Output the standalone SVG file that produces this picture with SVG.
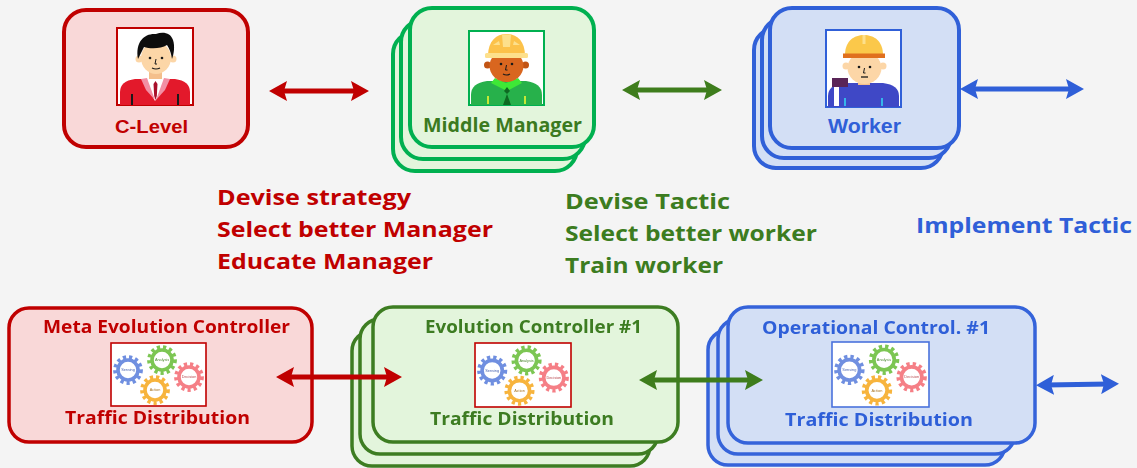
<svg xmlns="http://www.w3.org/2000/svg" xmlns:xlink="http://www.w3.org/1999/xlink" width="1137" height="468" viewBox="0 0 1137 468">
  <style>
    .geo { font-family: "Open Sans", "Noto Sans", sans-serif; font-weight: 700; }
    .ari { font-family: "Liberation Sans", Arial, sans-serif; font-weight: 700; }
    .red { fill: #c00000; }
    .grn { fill: #3c7c20; }
    .blu { fill: #2f5fd8; }
    .cRed { fill: #f9d8d8; stroke: #c00000; stroke-width: 4; }
    .cGrn { fill: #e3f5dc; stroke: #00b050; stroke-width: 4; }
    .cBlu { fill: #d3dff5; stroke: #3060d8; stroke-width: 4; }
    .bRed { fill: #f9d8d8; stroke: #c00000; stroke-width: 3.5; }
    .bGrn { fill: #e3f5dc; stroke: #3e7d22; stroke-width: 3.5; }
    .bBlu { fill: #d3dff5; stroke: #3464da; stroke-width: 3.5; }
    .skin { fill: #fcd6a7; }
    .ink { fill: #1a1a1a; }
    .teeth { fill: none; stroke-width: 4.6; stroke-dasharray: 3.1 2.9; }
    .ring { fill: #ffffff; stroke-width: 3.6; }
    .gearTxt { font-family: "Liberation Sans", Arial, sans-serif; font-size: 3.8px; text-anchor: middle; }
  </style>
  <defs>
    <marker id="hRed" viewBox="0 0 18 20" markerWidth="18" markerHeight="20" refX="8" refY="10" markerUnits="userSpaceOnUse" orient="auto-start-reverse">
      <path d="M0,0 L18,10 L0,20 L3,10 Z" fill="#c00000"/>
    </marker>
    <marker id="hGrn" viewBox="0 0 18 20" markerWidth="18" markerHeight="20" refX="8" refY="10" markerUnits="userSpaceOnUse" orient="auto-start-reverse">
      <path d="M0,0 L18,10 L0,20 L3,10 Z" fill="#3e7d1c"/>
    </marker>
    <marker id="hBlu" viewBox="0 0 18 20" markerWidth="18" markerHeight="20" refX="8" refY="10" markerUnits="userSpaceOnUse" orient="auto-start-reverse">
      <path d="M0,0 L18,10 L0,20 L3,10 Z" fill="#2f5fd8"/>
    </marker>
    <filter id="soft" x="-5%" y="-5%" width="110%" height="110%">
      <feGaussianBlur stdDeviation="0.5"/>
    </filter>
    <!-- four interlocking gears: sense / analyse / decide / act -->
    <symbol id="gears" viewBox="0 0 95 63" overflow="visible">
      <g stroke="#6f8fe0">
        <circle class="teeth" cx="17" cy="27" r="12.6"/>
        <circle class="ring" cx="17" cy="27" r="10"/>
      </g>
      <g stroke="#7cc653">
        <circle class="teeth" cx="51" cy="17" r="12.6"/>
        <circle class="ring" cx="51" cy="17" r="10"/>
      </g>
      <g stroke="#f57f86">
        <circle class="teeth" cx="78" cy="34" r="12.6"/>
        <circle class="ring" cx="78" cy="34" r="10"/>
      </g>
      <g stroke="#f7b43e">
        <circle class="teeth" cx="44" cy="47" r="12.6"/>
        <circle class="ring" cx="44" cy="47" r="10"/>
      </g>
      <text class="gearTxt" x="17" y="28.3" fill="#4a64b0">Sensing</text>
      <text class="gearTxt" x="51" y="18.3" fill="#4e8a32">Analysis</text>
      <text class="gearTxt" x="78" y="35.3" fill="#b84a50">Decision</text>
      <text class="gearTxt" x="44" y="48.3" fill="#a87420">Action</text>
    </symbol>
  </defs>

  <rect x="0" y="0" width="1137" height="468" fill="#f4f4f4"/>

  <!-- C-Level -->
  <g id="c-level">
    <rect class="cRed" x="64" y="10" width="184" height="137" rx="22"/>
    <g transform="translate(117,28)">
      <rect x="0" y="0" width="76" height="77" fill="#ffffff" stroke="#c00000" stroke-width="2"/>
      <path d="M3,77 V64 Q3,53 18,51 L58,51 Q73,53 73,64 V77 Z" fill="#e3192b"/>
      <rect x="32" y="40" width="13" height="12" fill="#f4bf8c"/>
      <path d="M28,51 L49,51 L43,66 L38,73 L34,66 Z" fill="#ffffff"/>
      <path d="M24,51 L30,50 L38,72 L29,62 Z" fill="#f28fa4"/>
      <path d="M53,51 L47,50 L39,72 L48,62 Z" fill="#f28fa4"/>
      <path d="M38.5,53 L40.5,56 L39.8,68 L38.5,72 L37.2,68 L36.5,56 Z" fill="#a80f2a"/>
      <rect x="14" y="66" width="2" height="11" class="ink"/>
      <rect x="60" y="66" width="2" height="11" class="ink"/>
      <circle cx="22" cy="31" r="3.5" class="skin"/>
      <circle cx="56" cy="31" r="3.5" class="skin"/>
      <ellipse cx="39" cy="30" rx="15" ry="16" class="skin"/>
      <path d="M21,31 C18,13 28,5 39,6 C46,3 54,5 56,12 C58,18 57,26 55,31 C54,24 52,20 50,17 C44,21 33,21 27,19 C25,23 23,27 21,31 Z" fill="#0d0d0d"/>
      <circle cx="33" cy="30" r="1.3" class="ink"/>
      <circle cx="45" cy="30" r="1.3" class="ink"/>
      <path d="M39,31 L38,36 L40,36" stroke="#1a1a1a" stroke-width="1" fill="none"/>
      <path d="M35,40 Q39,42 43,40" stroke="#1a1a1a" stroke-width="1.2" fill="none"/>
    </g>
    <text class="ari red" x="115" y="133" font-size="18" textLength="73" lengthAdjust="spacingAndGlyphs">C-Level</text>
  </g>

  <!-- Middle Manager (stack) -->
  <g id="middle-manager">
    <rect class="cGrn" x="393" y="32" width="184" height="139" rx="22"/>
    <rect class="cGrn" x="401" y="20" width="184" height="139" rx="22"/>
    <rect class="cGrn" x="410" y="8" width="184" height="139" rx="22"/>
    <g transform="translate(469,31)">
      <rect x="0" y="0" width="75" height="74" fill="#ffffff" stroke="#00b050" stroke-width="2"/>
      <path d="M2,74 V64 Q2,52 18,50 L57,50 Q73,52 73,64 V74 Z" fill="#27b14b"/>
      <path d="M26,47 L37,52 L49,47 L53,52 L38,60 L22,52 Z" fill="#3ee836"/>
      <path d="M38,56 L41,60 L38,63 L35,60 Z" fill="#0e6a22"/>
      <path d="M38,63 L42,74 L34,74 Z" fill="#0e6a22"/>
      <rect x="18" y="65" width="2" height="8" fill="#c6e836"/>
      <rect x="55" y="65" width="2" height="8" fill="#c6e836"/>
      <circle cx="18.5" cy="34" r="3.5" fill="#c25414"/>
      <circle cx="56.5" cy="34" r="3.5" fill="#c25414"/>
      <ellipse cx="37.5" cy="35" rx="17" ry="16" fill="#d9661f"/>
      <path d="M19,25 C19,10 27,3 37.5,3 C48,3 56,10 56,25 Z" fill="#fcc24a"/>
      <path d="M33,3.5 L42,3.5 L41,16 L34,16 Z" fill="#fde08c"/>
      <path d="M24,14 L30,10 L31,14 Z M51,14 L45,10 L44,14 Z" fill="#fde08c"/>
      <rect x="16" y="22" width="43" height="5" rx="1.5" fill="#fde08c"/>
      <circle cx="32" cy="33" r="1.3" class="ink"/>
      <circle cx="43" cy="33" r="1.3" class="ink"/>
      <path d="M37.5,34 L36.5,39 L38.5,39" stroke="#1a1a1a" stroke-width="1" fill="none"/>
      <path d="M34,43 Q37.5,45 41,43" stroke="#1a1a1a" stroke-width="1.2" fill="none"/>
    </g>
    <text class="geo" x="423" y="132" font-size="19" fill="#3b7a1f" textLength="159" lengthAdjust="spacingAndGlyphs">Middle Manager</text>
  </g>

  <!-- Worker (stack) -->
  <g id="worker">
    <rect class="cBlu" x="754" y="28" width="189" height="140" rx="22"/>
    <rect class="cBlu" x="762" y="18" width="189" height="140" rx="22"/>
    <rect class="cBlu" x="770" y="8" width="189" height="140" rx="22"/>
    <g transform="translate(826,30)">
      <rect x="0" y="0" width="75" height="77" fill="#ffffff" stroke="#3060d8" stroke-width="2"/>
      <path d="M2,77 V66 Q2,55 18,53 L57,53 Q73,55 73,66 V77 Z" fill="#3f48c6"/>
      <rect x="32" y="46" width="12" height="9" fill="#f4bf8c"/>
      <rect x="8" y="56" width="5" height="20" fill="#ffffff"/>
      <rect x="6" y="48" width="16" height="9" fill="#5a2557"/>
      <rect x="18" y="68" width="2" height="8" fill="#35b5ea"/>
      <rect x="55" y="68" width="2" height="8" fill="#35b5ea"/>
      <circle cx="20" cy="36" r="3.5" class="skin"/>
      <circle cx="57" cy="36" r="3.5" class="skin"/>
      <ellipse cx="38.5" cy="38" rx="17" ry="16" class="skin"/>
      <path d="M19,25 C19,11 28,5 38,5 C48,5 57,11 57,25 Z" fill="#fbc84a"/>
      <rect x="36.5" y="5" width="3" height="9" fill="#fde08c"/>
      <rect x="17" y="23.5" width="42" height="4.5" fill="#e0701e"/>
      <circle cx="33" cy="37" r="1.3" class="ink"/>
      <circle cx="44" cy="37" r="1.3" class="ink"/>
      <path d="M38.5,38 L37.5,43 L39.5,43" stroke="#1a1a1a" stroke-width="1" fill="none"/>
      <path d="M35,47 L42,47" stroke="#1a1a1a" stroke-width="1.3"/>
    </g>
    <text class="ari blu" x="828" y="133" font-size="20" textLength="73" lengthAdjust="spacingAndGlyphs">Worker</text>
  </g>

  <!-- responsibility lists -->
  <g id="strategy-notes" class="geo red" font-size="21">
    <text x="217" y="205" textLength="194" lengthAdjust="spacingAndGlyphs">Devise strategy</text>
    <text x="217" y="237" textLength="276" lengthAdjust="spacingAndGlyphs">Select better Manager</text>
    <text x="217" y="269" textLength="216" lengthAdjust="spacingAndGlyphs">Educate Manager</text>
  </g>
  <g id="tactic-notes" class="geo grn" font-size="21">
    <text x="565" y="209" textLength="165" lengthAdjust="spacingAndGlyphs">Devise Tactic</text>
    <text x="565" y="241" textLength="252" lengthAdjust="spacingAndGlyphs">Select better worker</text>
    <text x="565" y="273" textLength="158" lengthAdjust="spacingAndGlyphs">Train worker</text>
  </g>
  <g id="implement-notes" class="geo blu" font-size="21">
    <text x="916" y="233" textLength="216" lengthAdjust="spacingAndGlyphs">Implement Tactic</text>
  </g>

  <!-- Meta Evolution Controller -->
  <g id="meta-evolution-controller" filter="url(#soft)">
    <rect class="bRed" x="9" y="308" width="303" height="134" rx="20"/>
    <text class="geo red" x="43" y="333" font-size="17.5" textLength="247" lengthAdjust="spacingAndGlyphs">Meta Evolution Controller</text>
    <rect x="111" y="343" width="95" height="63" fill="#ffffff" stroke="#c00000" stroke-width="1.6"/>
    <use href="#gears" x="111" y="343" width="95" height="63"/>
    <text class="geo red" x="65" y="424" font-size="17.5" textLength="185" lengthAdjust="spacingAndGlyphs">Traffic Distribution</text>
  </g>

  <!-- Evolution Controller #1 (stack) -->
  <g id="evolution-controller" filter="url(#soft)">
    <rect class="bGrn" x="352" y="331" width="298" height="135" rx="20"/>
    <rect class="bGrn" x="360" y="319" width="298" height="135" rx="20"/>
    <rect class="bGrn" x="373" y="307" width="305" height="135" rx="20"/>
    <text class="geo grn" x="425" y="333" font-size="17.5" textLength="217" lengthAdjust="spacingAndGlyphs">Evolution Controller #1</text>
    <rect x="475" y="343" width="96" height="64" fill="#ffffff" stroke="#c00000" stroke-width="1.6"/>
    <use href="#gears" x="475" y="343" width="96" height="64"/>
    <text class="geo grn" x="430" y="425" font-size="17.5" textLength="184" lengthAdjust="spacingAndGlyphs">Traffic Distribution</text>
  </g>

  <!-- Operational Control #1 (stack) -->
  <g id="operational-control" filter="url(#soft)">
    <rect class="bBlu" x="708" y="330" width="297" height="135" rx="20"/>
    <rect class="bBlu" x="718" y="319" width="297" height="135" rx="20"/>
    <rect class="bBlu" x="728" y="307" width="307" height="136" rx="20"/>
    <text class="geo blu" x="762" y="334" font-size="17.5" textLength="228" lengthAdjust="spacingAndGlyphs">Operational Control. #1</text>
    <rect x="832" y="342" width="97" height="65" fill="#ffffff" stroke="#4a72dc" stroke-width="1.6"/>
    <use href="#gears" x="832" y="342" width="97" height="65"/>
    <text class="geo blu" x="785" y="426" font-size="17.5" textLength="188" lengthAdjust="spacingAndGlyphs">Traffic Distribution</text>
  </g>

  <!-- connectors, drawn over the cards -->
  <g id="connectors" stroke-width="5" fill="none">
    <line x1="279" y1="91" x2="359" y2="91" stroke="#c00000" marker-start="url(#hRed)" marker-end="url(#hRed)"/>
    <line x1="632" y1="90" x2="712" y2="90" stroke="#3e7d1c" marker-start="url(#hGrn)" marker-end="url(#hGrn)"/>
    <line x1="970" y1="89" x2="1074" y2="89" stroke="#2f5fd8" marker-start="url(#hBlu)" marker-end="url(#hBlu)"/>
    <line x1="286" y1="377" x2="392" y2="377" stroke="#c00000" marker-start="url(#hRed)" marker-end="url(#hRed)"/>
    <line x1="649" y1="380" x2="753" y2="380" stroke="#3e7d1c" marker-start="url(#hGrn)" marker-end="url(#hGrn)"/>
    <line x1="1046" y1="385" x2="1109" y2="384" stroke="#2f5fd8" marker-start="url(#hBlu)" marker-end="url(#hBlu)"/>
  </g>
</svg>
